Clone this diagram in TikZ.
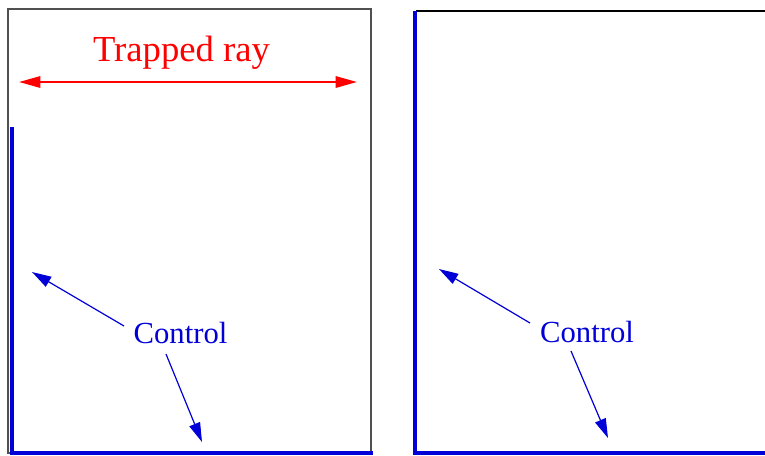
\documentclass[tikz,border=0pt]{standalone}
\usepackage{fontspec}
\setmainfont{Liberation Serif}
\usetikzlibrary{arrows.meta}
\definecolor{ctrlblue}{RGB}{0,0,215}
\definecolor{boxgray}{RGB}{80,80,80}
\begin{document}
\begin{tikzpicture}[x=0.75pt,y=-0.75pt,
  boxline/.style={draw=boxgray,line width=1.1pt},
  controlline/.style={draw=ctrlblue,line width=3pt},
  ctrlarrow/.style={draw=ctrlblue,line width=0.9pt,-{Triangle[length=14.5pt,width=8.5pt]}},
  rayarrow/.style={draw=red,line width=1.6pt,{Triangle[length=16pt,width=8.5pt]}-{Triangle[length=16pt,width=8.5pt]}},
  ctrllabel/.style={text=ctrlblue,font=\fontsize{23}{26}\selectfont,inner sep=0pt},
  raylabel/.style={text=red,font=\fontsize{27.5}{30}\selectfont,inner sep=0pt}]
\useasboundingbox (0,0) rectangle (765,455);
% left panel
\draw[boxline] (8,9) rectangle (371,453);
\coordinate (lvtop) at (11.5,127);
\coordinate (lvbot) at (11.5,452.5);
\coordinate (lhend) at (373,452.5);
\draw[controlline] (lvtop) -- (lvbot) -- (lhend);
\coordinate (rayL) at (19,82);
\coordinate (rayR) at (357,82);
\draw[rayarrow] (rayL) -- (rayR);
\node[raylabel] (trap) at (181.5,53) {Trapped ray};
\node[ctrllabel] (ctrlL) at (180.5,333) {Control};
\coordinate (lA0) at (124,326);
\coordinate (lA1) at (32,272);
\coordinate (lB0) at (166,354);
\coordinate (lB1) at (202,442);
\draw[ctrlarrow] (lA0) -- (lA1);
\draw[ctrlarrow] (lB0) -- (lB1);
% right panel
\coordinate (rtopL) at (416,11);
\coordinate (rtopR) at (766,11);
\draw[draw=black,line width=1.3pt] (rtopL) -- (rtopR);
\coordinate (rvtop) at (415,10.5);
\coordinate (rvbot) at (415,453);
\coordinate (rhend) at (766,453);
\draw[controlline] (rvtop) -- (rvbot) -- (rhend);
\node[ctrllabel] (ctrlR) at (587,332) {Control};
\coordinate (rA0) at (530,323);
\coordinate (rA1) at (439,269);
\coordinate (rB0) at (571,351);
\coordinate (rB1) at (608,438);
\draw[ctrlarrow] (rA0) -- (rA1);
\draw[ctrlarrow] (rB0) -- (rB1);
\end{tikzpicture}
\end{document}
